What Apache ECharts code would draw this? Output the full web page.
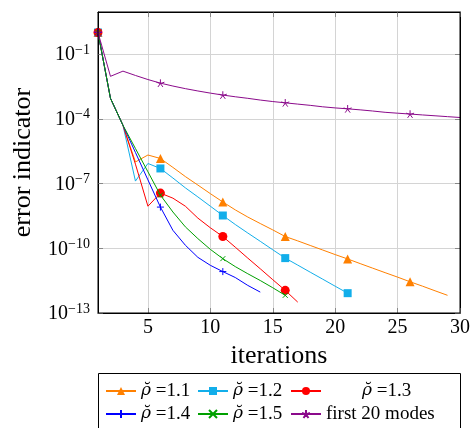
<!DOCTYPE html>
<html>
<head>
<meta charset="utf-8">
<script src="https://cdn.jsdelivr.net/npm/echarts@6/dist/echarts.min.js"></script>
<style>html,body{margin:0;padding:0;background:#fff;}#c{width:473px;height:428px;}</style>
</head>
<body>
<div id="c"></div>
<script>
// iteration numbers
const iterations = [1,2,3,4,5,6,7,8,9,10,11,12,13,14,15,16,17,18,19,20,21,22,23,24,25,26,27,28,29,30];
// error indicator values
const rho11 = [1, 8.9e-4, 5.0e-5, 1.0e-6, 2.1e-6, 1.45e-6, 5.6e-7, 2.1e-7, 8.5e-8, 3.4e-8,
  1.4e-8, 6.0e-9, 2.8e-9, 1.4e-9, 7.1e-10, 3.5e-10, 2.2e-10, 1.35e-10, 8.3e-11, 5.1e-11,
  3.2e-11, 1.95e-11, 1.2e-11, 7.4e-12, 4.6e-12, 2.8e-12, 1.75e-12, 1.07e-12, 6.6e-13];
const rho12 = [1, 8.9e-4, 5.0e-5, 1.3e-7, 8.5e-7, 5.0e-7, 1.8e-7, 6.3e-8, 2.4e-8, 8.9e-9,
  3.3e-9, 1.26e-9, 5.1e-10, 2.1e-10, 8.5e-11, 3.5e-11, 1.66e-11, 7.8e-12, 3.7e-12, 1.74e-12, 8.3e-13];
const rho13 = [1, 8.9e-4, 5.0e-5, 7.9e-7, 8.9e-9, 3.6e-8, 2.1e-8, 8.9e-9, 2.5e-9, 8.9e-10,
  3.5e-10, 1.12e-10, 3.5e-11, 1.12e-11, 3.5e-12, 1.12e-12, 3.2e-13];
const rho14 = [1, 8.9e-4, 5.0e-5, 2.75e-6, 1.48e-7, 8.1e-9, 6.8e-10, 1.38e-10, 3.8e-11, 1.62e-11,
  8.3e-12, 4.4e-12, 1.9e-12, 9.3e-13];
const rho15 = [1, 8.9e-4, 5.0e-5, 4.2e-6, 3.5e-7, 2.9e-8, 4.8e-9, 9.8e-10, 2.8e-10, 8.9e-11,
  3.3e-11, 1.41e-11, 6.6e-12, 3.2e-12, 1.48e-12, 6.6e-13];
const first20 = [1, 9.3e-3, 1.62e-2, 1.02e-2, 6.6e-3, 4.5e-3, 3.3e-3, 2.5e-3, 1.95e-3, 1.55e-3,
  1.26e-3, 1.05e-3, 8.9e-4, 7.4e-4, 6.3e-4, 5.5e-4, 4.8e-4, 4.2e-4, 3.6e-4, 3.2e-4,
  2.9e-4, 2.6e-4, 2.3e-4, 2.0e-4, 1.82e-4, 1.66e-4, 1.51e-4, 1.38e-4, 1.26e-4, 1.15e-4];
const seriesNames = ['\u03C1\u0306 =1.1', '\u03C1\u0306 =1.2', '\u03C1\u0306 =1.3', '\u03C1\u0306 =1.4', '\u03C1\u0306 =1.5', 'first 20 modes'];
// axis ticks (log10 exponents for y)
const yTickExponents = [-13, -10, -7, -4, -1];
const xTicks = [5, 10, 15, 20, 25, 30];

const FONT = 'Liberation Serif';
const colors = ['#ff8000', '#12aeea', '#ff0000', '#0000ff', '#00a000', '#8b0a8b'];
const symbols = ['triangle', 'rect', 'circle',
  'path://M0,-5 L0,5 M-5,0 L5,0',
  'path://M-4,-4 L4,4 M-4,4 L4,-4',
  'path://M0,0 L0,-5 M0,0 L4.76,-1.55 M0,0 L2.94,4.05 M0,0 L-2.94,4.05 M0,0 L-4.76,-1.55'];
const symSizes = [9, 8, 9, 7, 5, 8];
const filled = [true, true, true, false, false, false];
const allData = [rho11, rho12, rho13, rho14, rho15, first20];

const series = allData.map((vals, k) => ({
  name: seriesNames[k],
  type: 'line',
  xAxisIndex: 0, yAxisIndex: 0,
  symbol: symbols[k],
  symbolSize: symSizes[k],
  symbolKeepAspect: true,
  showAllSymbol: true,
  clip: true,
  lineStyle: { color: colors[k], width: 1 },
  itemStyle: filled[k] ? { color: colors[k], borderWidth: 0 } : { color: colors[k], borderColor: colors[k], borderWidth: 1 },
  emphasis: { disabled: true },
  z: 2 + k,
  data: vals.map((v, i) => {
    const pt = [iterations[i], Math.log10(v)];
    return (i % 5 === 0) ? { value: pt } : { value: pt, symbol: 'none' };
  })
}));

const legendPos = [
  { left: 105, top: 381 }, { left: 197, top: 381 }, { left: 290, top: 381, pad: 36 },
  { left: 105, top: 404 }, { left: 197, top: 404 }, { left: 290, top: 404 }
];
const legends = seriesNames.map((n, k) => ({
  data: [n],
  left: legendPos[k].left, top: legendPos[k].top,
  padding: 0, itemWidth: 30, itemHeight: 10, itemGap: 0,
  selectedMode: false,
  formatter: (name) => name.indexOf('\u03C1') === 0 ? '{r|\u03C1\u0306}{t|' + name.slice(2) + '}' : '{t|' + name + '}',
  textStyle: { fontFamily: FONT, fontSize: 19, color: '#000', lineHeight: 20,
    padding: [0, 0, 0, legendPos[k].pad || 0],
    rich: {
      r: { fontFamily: 'DejaVu Serif', fontStyle: 'italic', fontSize: 17, color: '#000', lineHeight: 20 },
      t: { fontFamily: FONT, fontSize: 19, color: '#000', lineHeight: 20 }
    } }
}));

const yLabelFmt = (v) => '{b|10}{s|\u2212' + (-Math.round(v)) + '}';

const axisLineStyle = { show: true, onZero: false, lineStyle: { color: '#000', width: 1 } };
const tickStyle = (vals) => ({ show: true, inside: true, length: 5, customValues: vals, lineStyle: { color: '#888' } });

const option = {
  animation: false,
  backgroundColor: '#fff',
  grid: { left: 98, right: 13, top: 12, bottom: 115, show: true, borderColor: '#000', borderWidth: 1, backgroundColor: 'transparent', z: 10 },
  legend: legends,
  graphic: [{ type: 'rect', shape: { x: 98.5, y: 373.5, width: 362, height: 70 },
    style: { fill: 'none', stroke: '#000', lineWidth: 1 }, silent: true }],
  xAxis: [{
    type: 'value', min: 1, max: 30,
    name: 'iterations', nameLocation: 'middle', nameGap: 28,
    nameTextStyle: { fontFamily: FONT, fontSize: 26, color: '#000' },
    axisLine: axisLineStyle,
    axisTick: tickStyle(xTicks),
    splitLine: { show: true, lineStyle: { color: '#d4d4d4', width: 1 } },
    axisLabel: { fontFamily: FONT, fontSize: 20, color: '#000', margin: 5, customValues: xTicks }
  }, {
    type: 'value', position: 'top', min: 1, max: 30,
    axisLine: axisLineStyle,
    axisTick: tickStyle(xTicks),
    axisLabel: { show: false }, splitLine: { show: false }
  }],
  yAxis: [{
    type: 'value', min: -13, max: 0.95,
    name: 'error indicator', nameLocation: 'middle', nameGap: 62,
    nameTextStyle: { fontFamily: FONT, fontSize: 26, color: '#000' },
    axisLine: axisLineStyle,
    axisTick: tickStyle(yTickExponents),
    splitLine: { show: true, lineStyle: { color: '#d4d4d4', width: 1 } },
    axisLabel: { margin: 8, customValues: yTickExponents, formatter: yLabelFmt,
      rich: {
        b: { fontFamily: FONT, fontSize: 20, color: '#000', lineHeight: 22, verticalAlign: 'bottom' },
        s: { fontFamily: FONT, fontSize: 14, color: '#000', lineHeight: 14, verticalAlign: 'top' }
      } }
  }, {
    type: 'value', position: 'right', min: -13, max: 0.95,
    axisLine: axisLineStyle,
    axisTick: tickStyle(yTickExponents),
    axisLabel: { show: false }, splitLine: { show: false }
  }],
  series: series
};

const chart = echarts.init(document.getElementById('c'), null, { renderer: 'canvas' });
chart.setOption(option);
</script>
</body>
</html>
